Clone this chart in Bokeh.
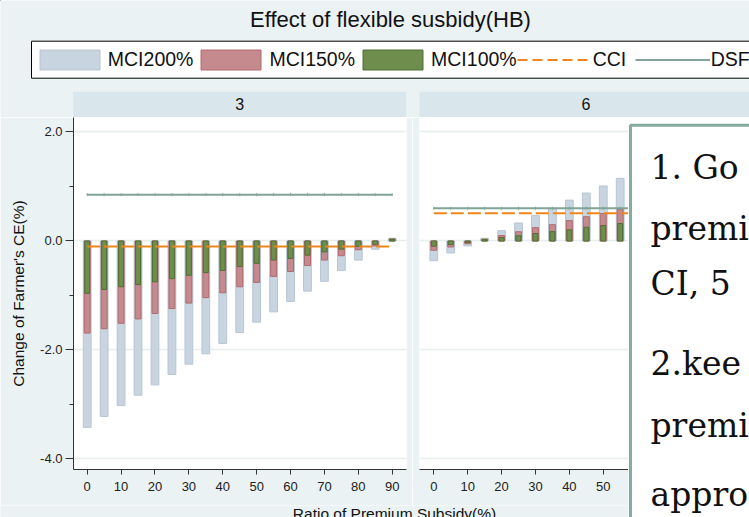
from bokeh.plotting import figure
from bokeh.layouts import row, column
from bokeh.models import (Range1d, LinearAxis, FixedTicker, NumeralTickFormatter,
                          BoxAnnotation, Label, Legend, LegendItem,
                          ColumnDataSource, Grid)
from bokeh.embed import file_html
from bokeh.resources import INLINE

# ---------------- data ----------------
subsidy = [0, 5, 10, 15, 20, 25, 30, 35, 40, 45, 50, 55, 60, 65, 70, 75, 80, 85, 90]

# panel "3"
mci200_3 = [-3.42, -3.22, -3.02, -2.83, -2.64, -2.45, -2.26, -2.07, -1.88, -1.68,
            -1.49, -1.30, -1.11, -0.92, -0.74, -0.54, -0.35, -0.15, 0.05]
mci150_3 = [-1.69, -1.61, -1.51, -1.43, -1.33, -1.24, -1.14, -1.04, -0.95, -0.84,
            -0.76, -0.65, -0.56, -0.45, -0.35, -0.27, -0.16, -0.09, 0.04]
mci100_3 = [-0.96, -0.89, -0.84, -0.80, -0.75, -0.69, -0.63, -0.58, -0.54, -0.47,
            -0.41, -0.35, -0.32, -0.26, -0.20, -0.15, -0.10, -0.06, 0.03]
cci_3 = -0.10
dsf_3 = 0.85

# panel "6" (bars right of 55 are hidden behind the note box)
subsidy_6 = [0, 5, 10, 15, 20, 25, 30, 35, 40, 45, 50, 55]
mci200_6 = [-0.36, -0.22, -0.09, 0.05, 0.19, 0.33, 0.47, 0.60, 0.75, 0.88, 1.01, 1.15]
mci150_6 = [-0.17, -0.11, -0.05, 0.035, 0.10, 0.17, 0.245, 0.30, 0.375, 0.445, 0.505, 0.58]
mci100_6 = [-0.095, -0.065, -0.03, 0.025, 0.063, 0.095, 0.138, 0.172, 0.205, 0.252, 0.283, 0.32]
cci_6 = 0.51
dsf_6 = 0.60

x_ticks = [0, 10, 20, 30, 40, 50, 60, 70, 80, 90]
y_ticks = [-4, -2, 0, 2]
y_minor = [-3, -1, 1]
panel_labels = ["3", "6"]
series_labels = ["MCI200%", "MCI150%", "MCI100%", "CCI", "DSF"]
title_text = "Effect of flexible susbidy(HB)"
x_title = "Ratio of Premium Subsidy(%)"
y_title = "Change of Farmer's CE(%)"
note_lines = ["1. Go", "premi", "CI, 5", "2.kee", "premi", "appro"]

# ---------------- styles / layout ----------------
BG = "#eaf2f3"
STRIP = "#d9e6eb"
GRID = "#e6eef0"
C200, L200 = "#c8d4df", "#b7c6d3"
C150, L150 = "#c58a8e", "#b06a6f"
C100, L100 = "#6f8e4d", "#4f6f33"
ORANGE = "#f0861b"
TEAL = "#80a495"
BOXLINE = "#86ab9f"
FONT = "Liberation Sans"
DASH = "13 4"

W, H = 749, 517
HEAD_H = 117            # header (title, legend, strips)
ROW_H = 388             # panels row: y 117 -> 505
FOOT_H = H - HEAD_H - ROW_H
BOX_X = 628             # note box left edge
PXX = 3.389             # pixels per x unit
Y0, Y1 = -4.193, 2.266
BOTTOM = 36

# panel 1 frame: x 73 -> 406 ; panel 6 frame: x 419 -> 628
P1_L, P1_FW, P1_R = 73, 333, 6
P6_L, P6_FW = 7, BOX_X - 412 - 7
X0_1 = -(86.7 - 73) / PXX
X0_6 = -(433.3 - 419) / PXX


def panel(width, left, right, fw, x0):
    f = figure(width=width, height=ROW_H,
               x_range=Range1d(x0, x0 + fw / PXX), y_range=Range1d(Y0, Y1),
               output_backend="svg", toolbar_location=None,
               x_axis_type=None, y_axis_type=None,
               min_border_left=left, min_border_right=right, min_border_top=0,
               min_border_bottom=BOTTOM,
               background_fill_color="white", border_fill_color=BG,
               outline_line_color=None)
    xa = LinearAxis(ticker=FixedTicker(ticks=x_ticks, minor_ticks=[]),
                    major_label_text_font=FONT, major_label_text_font_size="13px",
                    major_label_text_color="#222", major_label_standoff=7,
                    major_tick_out=5, major_tick_in=0,
                    axis_line_color="#333", major_tick_line_color="#333")
    f.add_layout(xa, "below")
    f.add_layout(Grid(dimension=1, ticker=FixedTicker(ticks=y_ticks),
                      grid_line_color=GRID, grid_line_width=1.5))
    return f


def draw(f, xs, a, b, c, cci, dsf):
    s = ColumnDataSource(dict(x=xs, a=a, b=b, c=c))
    f.vbar(x="x", top="a", bottom=0, width=2.3, source=s,
           fill_color=C200, line_color=L200, line_width=1)
    f.vbar(x="x", top="b", bottom=0, width=1.75, source=s,
           fill_color=C150, line_color=L150, line_width=1)
    f.vbar(x="x", top="c", bottom=0, width=1.45, source=s,
           fill_color=C100, line_color=L100, line_width=1)
    n = len(subsidy)
    f.line(subsidy, [cci] * n, line_color=ORANGE, line_width=2, line_dash=DASH)
    f.line(subsidy, [dsf] * n, line_color=TEAL, line_width=2)
    f.scatter(subsidy, [dsf] * n, marker="dash", angle=1.5708, size=3,
              line_color=TEAL, line_width=1)


p1 = panel(P1_L + P1_FW + P1_R, P1_L, P1_R, P1_FW, X0_1)
ya = LinearAxis(ticker=FixedTicker(ticks=y_ticks, minor_ticks=y_minor),
                formatter=NumeralTickFormatter(format="0.0"),
                axis_label=y_title,
                axis_label_text_font=FONT, axis_label_text_font_size="15.5px",
                axis_label_text_font_style="normal", axis_label_text_color="#111",
                axis_label_standoff=10,
                major_label_text_font=FONT, major_label_text_font_size="13px",
                major_label_text_color="#222", major_label_standoff=3,
                major_tick_out=8, major_tick_in=0, minor_tick_out=4, minor_tick_in=0,
                axis_line_color="#333", major_tick_line_color="#333",
                minor_tick_line_color="#333")
p1.add_layout(ya, "left")
draw(p1, subsidy, mci200_3, mci150_3, mci100_3, cci_3, dsf_3)

p6 = panel(P6_L + P6_FW, P6_L, 0, P6_FW, X0_6)
draw(p6, subsidy_6, mci200_6, mci150_6, mci100_6, cci_6, dsf_6)


def canvas_fig(w, h, y_top, x_left=0):
    f = figure(width=w, height=h, x_range=Range1d(x_left, x_left + w),
               y_range=Range1d(y_top + h, y_top),
               output_backend="svg", toolbar_location=None,
               x_axis_type=None, y_axis_type=None,
               min_border=0, min_border_left=0, min_border_right=0,
               min_border_top=0, min_border_bottom=0,
               background_fill_color=BG, border_fill_color=BG,
               outline_line_color=None)
    f.xgrid.visible = False
    f.ygrid.visible = False
    return f


def text(f, x, y, t, size, align="center", font=FONT):
    f.add_layout(Label(x=x, y=y, text=t, text_align=align,
                       text_baseline="middle", text_font=font,
                       text_font_size=size, text_color="#111"))


# ---------------- header: title, legend, strips ----------------
head = canvas_fig(W, HEAD_H, 0)
text(head, 390, 18.5, title_text, "22px")
for (lft, rgt), lab in zip([(72.7, 405.7), (419, 760)], panel_labels):
    head.add_layout(BoxAnnotation(left=lft, right=rgt, top=91.3, bottom=117.5,
                                  fill_color=STRIP, fill_alpha=1, line_color=None))
    text(head, (lft + min(rgt, 752)) / 2, 103.5, lab, "16px")

# legend frame
head.add_layout(BoxAnnotation(left=31, right=800, top=40.7, bottom=77.7,
                              fill_color="white", fill_alpha=1,
                              line_color="black", line_width=1, line_alpha=1))
# legend swatches (off-canvas one-point renderers styled like the series)
g200 = head.vbar(x=[-1000], top=[0], width=1, fill_color=C200, line_color=L200)
g150 = head.vbar(x=[-1000], top=[0], width=1, fill_color=C150, line_color=L150)
g100 = head.vbar(x=[-1000], top=[0], width=1, fill_color=C100, line_color=L100)
gcci = head.line(x=[-1000, -999], y=[0, 0], line_color=ORANGE, line_width=2,
                 line_dash="10 5")
gdsf = head.line(x=[-1000, -999], y=[0, 0], line_color=TEAL, line_width=2)
legend = Legend(items=[LegendItem(label=l, renderers=[r]) for l, r in
                       zip(series_labels, [g200, g150, g100, gcci, gdsf])],
                orientation="horizontal", location=(31.8, HEAD_H - 71.8),
                border_line_color=None, background_fill_alpha=0,
                label_text_font=FONT, label_text_font_size="19.5px",
                label_text_color="#111",
                glyph_width=75, glyph_height=25, label_standoff=1, spacing=0,
                padding=0, margin=0, label_width=42, label_height=25)
head.add_layout(legend)

# ---------------- footer: x title ----------------
foot = canvas_fig(BOX_X, FOOT_H, HEAD_H + ROW_H)
text(foot, 394, 512.5, x_title, "15.5px")

# ---------------- note box ----------------
note = canvas_fig(W - BOX_X, H - HEAD_H, HEAD_H, x_left=BOX_X)
note.background_fill_color = "white"
note.add_layout(BoxAnnotation(left=630, right=900, top=124.8, bottom=900,
                              fill_color="white", fill_alpha=1,
                              line_color=BOXLINE, line_width=3, line_alpha=1))
for txt, cy in zip(note_lines, [167, 228, 283, 363, 425, 494]):
    text(note, 650, cy, txt, "33px", align="left", font="DejaVu Serif")

layout = column(head, row(column(row(p1, p6), foot), note))
open("out.html", "w").write(file_html(layout, INLINE))
